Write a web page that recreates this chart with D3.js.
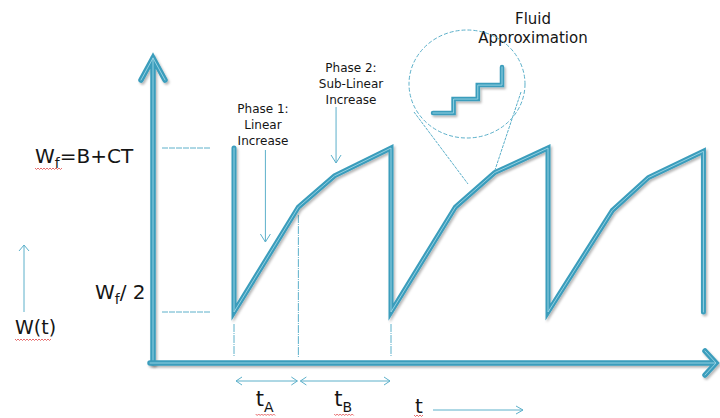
<!DOCTYPE html>
<html>
<head>
<meta charset="utf-8">
<script src="https://cdn.jsdelivr.net/npm/d3@7"></script>
<style>
  body { margin: 0; background: #fff; }
  svg { display: block; font-family: "DejaVu Sans", sans-serif; }
  .lbl { fill: #151515; }
  .thin { fill: none; stroke: #5cb0ca; stroke-width: 1; }
</style>
</head>
<body>
<div id="chart"></div>
<script>
// window size over time: three cycles (t in cycle units, W in units of Wf)
const cycleTimes  = [0, 0, 0.41, 0.64, 1, 1, 1.41, 1.66, 2, 2, 2.41, 2.64, 2.99, 2.99];
const windowSizes = [1, 0.5, 0.82, 0.915, 1, 0.5, 0.82, 0.925, 1, 0.5, 0.81, 0.91, 0.99, 0.5];

// reference levels on the W axis
const levelValues = [1, 0.5];
const levelLabels = [["W", "f", "=B+CT"], ["W", "f", "/ 2"]];

// phase boundaries of the first cycle
const phaseTimes = [0, 0.41, 1];
const phaseNames = ["A", "B"];

// phase call-outs
const calloutLines = [["Phase 1:", "Linear", "Increase"], ["Phase 2:", "Sub-Linear", "Increase"]];
const calloutTimes = [0.2, 0.65];

// zoomed staircase shown in the inset
const stepX = [0, 0.85, 0.85, 1.85, 1.85, 2.85, 2.85];
const stepY = [0, 0, 1, 1, 2, 2, 3.3];

const width = 720, height = 418;
const teal = '#3b9dbc', tealLight = '#9dd6e5';
const axisX = 153, axisY = 363;

const svg = d3.select('#chart').append('svg')
    .attr('width', width)
    .attr('height', height);

const defs = svg.append('defs');
defs.append('filter')
    .attr('id', 'shadow')
    .attr('filterUnits', 'userSpaceOnUse')
    .attr('x', 0).attr('y', 0).attr('width', width).attr('height', height)
  .append('feDropShadow')
    .attr('dx', 1.5).attr('dy', 2).attr('stdDeviation', 1.3)
    .attr('flood-color', '#000').attr('flood-opacity', 0.28);

const x = d3.scaleLinear().domain([0, 3]).range([234, 705]);
const y = d3.scaleLinear().domain([0.5, 1]).range([312, 148]);

// inset scales for the staircase
const sx = d3.scaleLinear().domain([0, 2.85]).range([433, 502]);
const sy = d3.scaleLinear().domain([0, 3.3]).range([113, 67]);

// thick teal stroke with a light highlight line, like the slide art
function thick(d, w) {
  const g = svg.append('g').attr('filter', 'url(#shadow)');
  g.append('path').attr('d', d)
      .attr('fill', 'none').attr('stroke', teal)
      .attr('stroke-width', w).attr('stroke-linejoin', 'miter')
      .attr('stroke-linecap', 'round');
  g.append('path').attr('d', d)
      .attr('fill', 'none').attr('stroke', tealLight)
      .attr('stroke-width', 0.9).attr('stroke-linejoin', 'miter')
      .attr('stroke-linecap', 'round');
  return g;
}

// red spell-check squiggle under a label
function squiggle(x0, x1, yy) {
  let d = `M${x0},${yy}`;
  for (let xx = x0 + 1.5, k = 0; xx <= x1; xx += 1.5, k++) d += `L${xx},${yy + (k % 2 ? 0 : 1.5)}`;
  svg.append('path').attr('d', d).attr('fill', 'none')
      .attr('stroke', '#e04848').attr('stroke-width', 0.8);
}

// axes with arrowheads
thick(`M${axisX},${axisY}L${axisX},58M141,80L${axisX},58L165,80`, 5.5);
thick(`M150,${axisY}L715,${axisY}M705,351L716,${axisY}L705,375`, 5.5);

// reference levels
svg.selectAll('.level')
    .data(levelValues)
  .join('line')
    .attr('class', 'thin level')
    .attr('x1', 162).attr('x2', 210)
    .attr('y1', d => y(d)).attr('y2', d => y(d))
    .attr('stroke-dasharray', '6,1');

const levelText = svg.selectAll('.level-label')
    .data(levelLabels)
  .join('text')
    .attr('class', 'lbl level-label')
    .attr('x', (d, i) => i === 0 ? 35 : 95)
    .attr('y', (d, i) => y(levelValues[i]) + (i === 0 ? 15 : -13))
    .style('font-size', '20px');
levelText.append('tspan').text(d => d[0]);
levelText.append('tspan').attr('dy', 5).style('font-size', '14px').text(d => d[1]);
levelText.append('tspan').attr('dy', -5).text(d => d[2]);
squiggle(35, 63, 168);

// W(t) axis label with small arrow
svg.append('text').attr('class', 'lbl')
    .attr('x', 15).attr('y', 334)
    .style('font-size', '19px').text('W(t)');
squiggle(15, 52, 339);
svg.append('path').attr('class', 'thin')
    .attr('d', 'M24,312L24,245M19,251L24,245L29,251');

// phase boundary guides
svg.selectAll('.phase-guide')
    .data(phaseTimes)
  .join('line')
    .attr('class', 'thin phase-guide')
    .attr('x1', d => x(d)).attr('x2', d => x(d))
    .attr('y1', (d, i) => i === 1 ? y(windowSizes[2]) + 8 : 324)
    .attr('y2', 357)
    .attr('stroke-dasharray', '8,1,1,1');

// window curve
const line = d3.line()
    .x((d, i) => x(cycleTimes[i]))
    .y(d => y(d));
thick(line(windowSizes), 5);

// tA / tB spans
phaseNames.forEach((name, i) => {
  const x0 = x(phaseTimes[i]) + 2, x1 = x(phaseTimes[i + 1]) - 1, yy = 381;
  svg.append('path').attr('class', 'thin')
      .attr('d', `M${x0},${yy}L${x1},${yy}M${x0 + 6},${yy - 4}L${x0},${yy}L${x0 + 6},${yy + 4}` +
                 `M${x1 - 6},${yy - 4}L${x1},${yy}L${x1 - 6},${yy + 4}`);
  const cx = (x0 + x1) / 2 - 6;
  const t = svg.append('text').attr('class', 'lbl')
      .attr('x', cx - 5).attr('y', 406).style('font-size', '21px');
  t.append('tspan').text('t');
  t.append('tspan').attr('dy', 6).style('font-size', '14px').text(name);
  squiggle(cx - 5, cx + 15, 414);
});

// t axis label
svg.append('text').attr('class', 'lbl')
    .attr('x', 415).attr('y', 413)
    .style('font-size', '20px').text('t');
squiggle(414, 424, 415);
svg.append('path').attr('class', 'thin')
    .attr('d', 'M433,410L523,410M516,406L523,410L516,414');

// phase call-outs
const calloutTextX = [263, 351], calloutBase = [113, 72], calloutArrow = [[150, 242], [107, 163]];
calloutLines.forEach((lines, i) => {
  svg.append('text').attr('class', 'lbl')
      .attr('text-anchor', 'middle')
      .style('font-size', '12px')
    .selectAll('tspan')
      .data(lines)
    .join('tspan')
      .attr('x', calloutTextX[i])
      .attr('y', (d, j) => calloutBase[i] + j * 16)
      .text(d => d);
  const ax = x(calloutTimes[i]), [a0, a1] = calloutArrow[i];
  svg.append('path').attr('class', 'thin').attr('stroke-width', 1.2)
      .attr('d', `M${ax},${a0}L${ax},${a1}M${ax - 5},${a1 - 8}L${ax},${a1}L${ax + 5},${a1 - 8}`);
});

// fluid approximation inset
svg.append('text').attr('class', 'lbl')
    .attr('text-anchor', 'middle').style('font-size', '15px')
  .selectAll('tspan')
    .data(['Fluid', 'Approximation'])
  .join('tspan')
    .attr('x', 533)
    .attr('y', (d, j) => 24 + j * 19)
    .text(d => d);

svg.append('ellipse').attr('class', 'thin')
    .attr('cx', 467).attr('cy', 84).attr('rx', 58).attr('ry', 54)
    .attr('stroke-dasharray', '4,2');
svg.append('path').attr('class', 'thin')
    .attr('stroke-width', 0.8).attr('stroke-dasharray', '3,1')
    .attr('d', 'M414,112L468,184M521,92L495,170');

const stairs = d3.line()
    .x((d, i) => sx(stepX[i]))
    .y(d => sy(d));
thick(stairs(stepY), 4.5);
</script>
</body>
</html>
